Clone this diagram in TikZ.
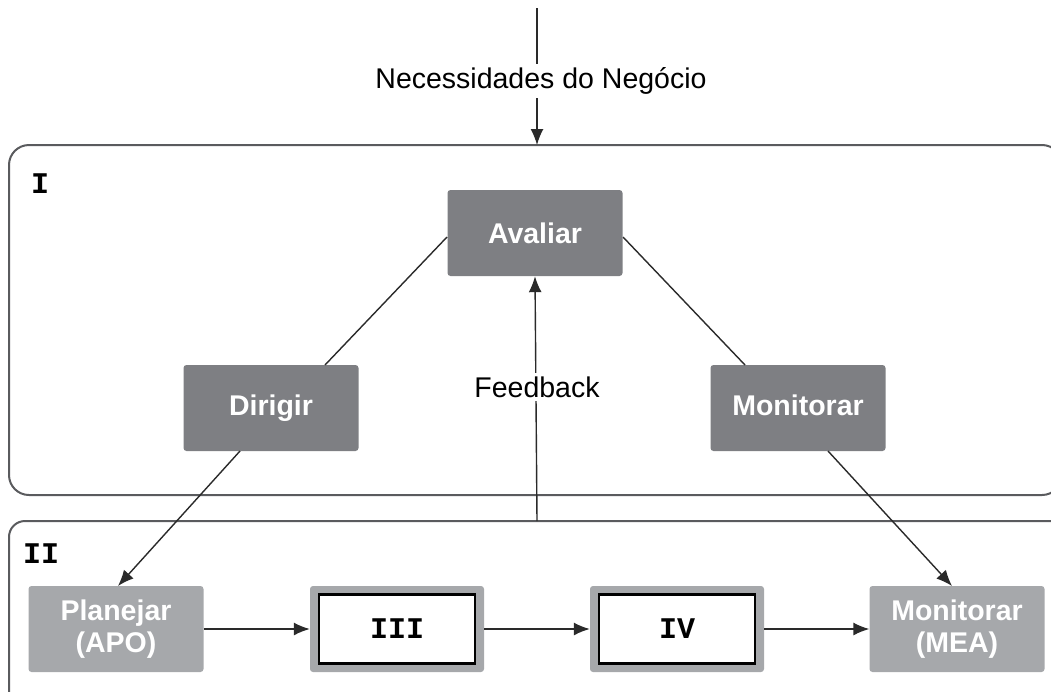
\documentclass[tikz,border=0pt]{standalone}
\usepackage{fontspec}
\setmainfont{Liberation Sans}
\newfontfamily\monofont{Liberation Mono}
\usetikzlibrary{arrows.meta}
\definecolor{darkbox}{HTML}{7E7F83}
\definecolor{lightbox}{HTML}{A6A8AB}
\definecolor{frame}{HTML}{5A5B5E}
\definecolor{conn}{HTML}{2A2A2A}
\tikzset{
  darknode/.style={fill=darkbox, rounded corners=3pt, minimum width=175pt, minimum height=86pt, text=white, font=\fontsize{28.5}{32}\selectfont\bfseries, align=center, inner sep=0pt},
  lightnode/.style={darknode, fill=lightbox},
  framenode/.style={fill=lightbox, rounded corners=3pt, minimum width=174pt, minimum height=86pt, inner sep=0pt},
  innernode/.style={draw=black, line width=2.5pt, fill=white, minimum width=156pt, minimum height=69pt, font=\monofont\bfseries\fontsize{30}{32}\selectfont, inner sep=0pt},
  grouplabel/.style={font=\monofont\bfseries\fontsize{30}{32}\selectfont, anchor=west, inner sep=0pt},
  plainlabel/.style={font=\fontsize{28.5}{32}\selectfont, fill=white, inner sep=4pt},
  groupbox/.style={draw=frame, line width=2pt},
  link/.style={draw=conn, line width=1.4pt},
  arrowlink/.style={link, -{Latex[length=16pt,width=13pt]}}
}
\begin{document}
\begin{tikzpicture}[x=1pt,y=-1pt]
\useasboundingbox (0,0) rectangle (1051,691);
\clip (0,0) rectangle (1051,691);
% group boxes
\draw[groupbox, rounded corners=20pt] (9,145) rectangle (1062,495);
\draw[groupbox, rounded corners=16pt] (9,521) rectangle (1080,720);
\node[grouplabel] (labI) at (31,184) {I};
\node[grouplabel] (labII) at (23,554) {II};
% coordinates
\coordinate (top) at (537,8);
\coordinate (boxItop) at (537,145);
\coordinate (boxIItop) at (537,521);
% nodes
\node[darknode] (avaliar) at (535,233) {Avaliar};
\node[darknode] (dirigir) at (271,408) {Dirigir\vphantom{l}};
\node[darknode] (monitorar) at (798,408) {Monitorar\vphantom{g}};
\node[lightnode] (planejar) at (116,629) {Planejar\\(APO)};
\node[framenode] (iiiframe) at (397,629) {};
\node[innernode] (iii) at (397,629) {III};
\node[framenode] (ivframe) at (677,629) {};
\node[innernode] (iv) at (677,629) {IV};
\node[lightnode] (mea) at (957,629) {Monitorar\\(MEA)};
% connectors
\draw[arrowlink] (top) -- (boxItop);
\node[plainlabel] (need) at (541,81) {Necessidades do Negócio};
\draw[arrowlink] (boxIItop) -- (avaliar.south);
\node[plainlabel] (feedback) at (537,387) {Feedback};
\draw[link] (447,237) -- (325,365);
\draw[link] (623,237) -- (745,365);
\draw[arrowlink] (240,451) -- (118,586);
\draw[arrowlink] (828,451) -- (952,586);
\draw[arrowlink] (planejar.east) -- (iiiframe.west);
\draw[arrowlink] (iiiframe.east) -- (ivframe.west);
\draw[arrowlink] (ivframe.east) -- (mea.west);
\end{tikzpicture}
\end{document}
